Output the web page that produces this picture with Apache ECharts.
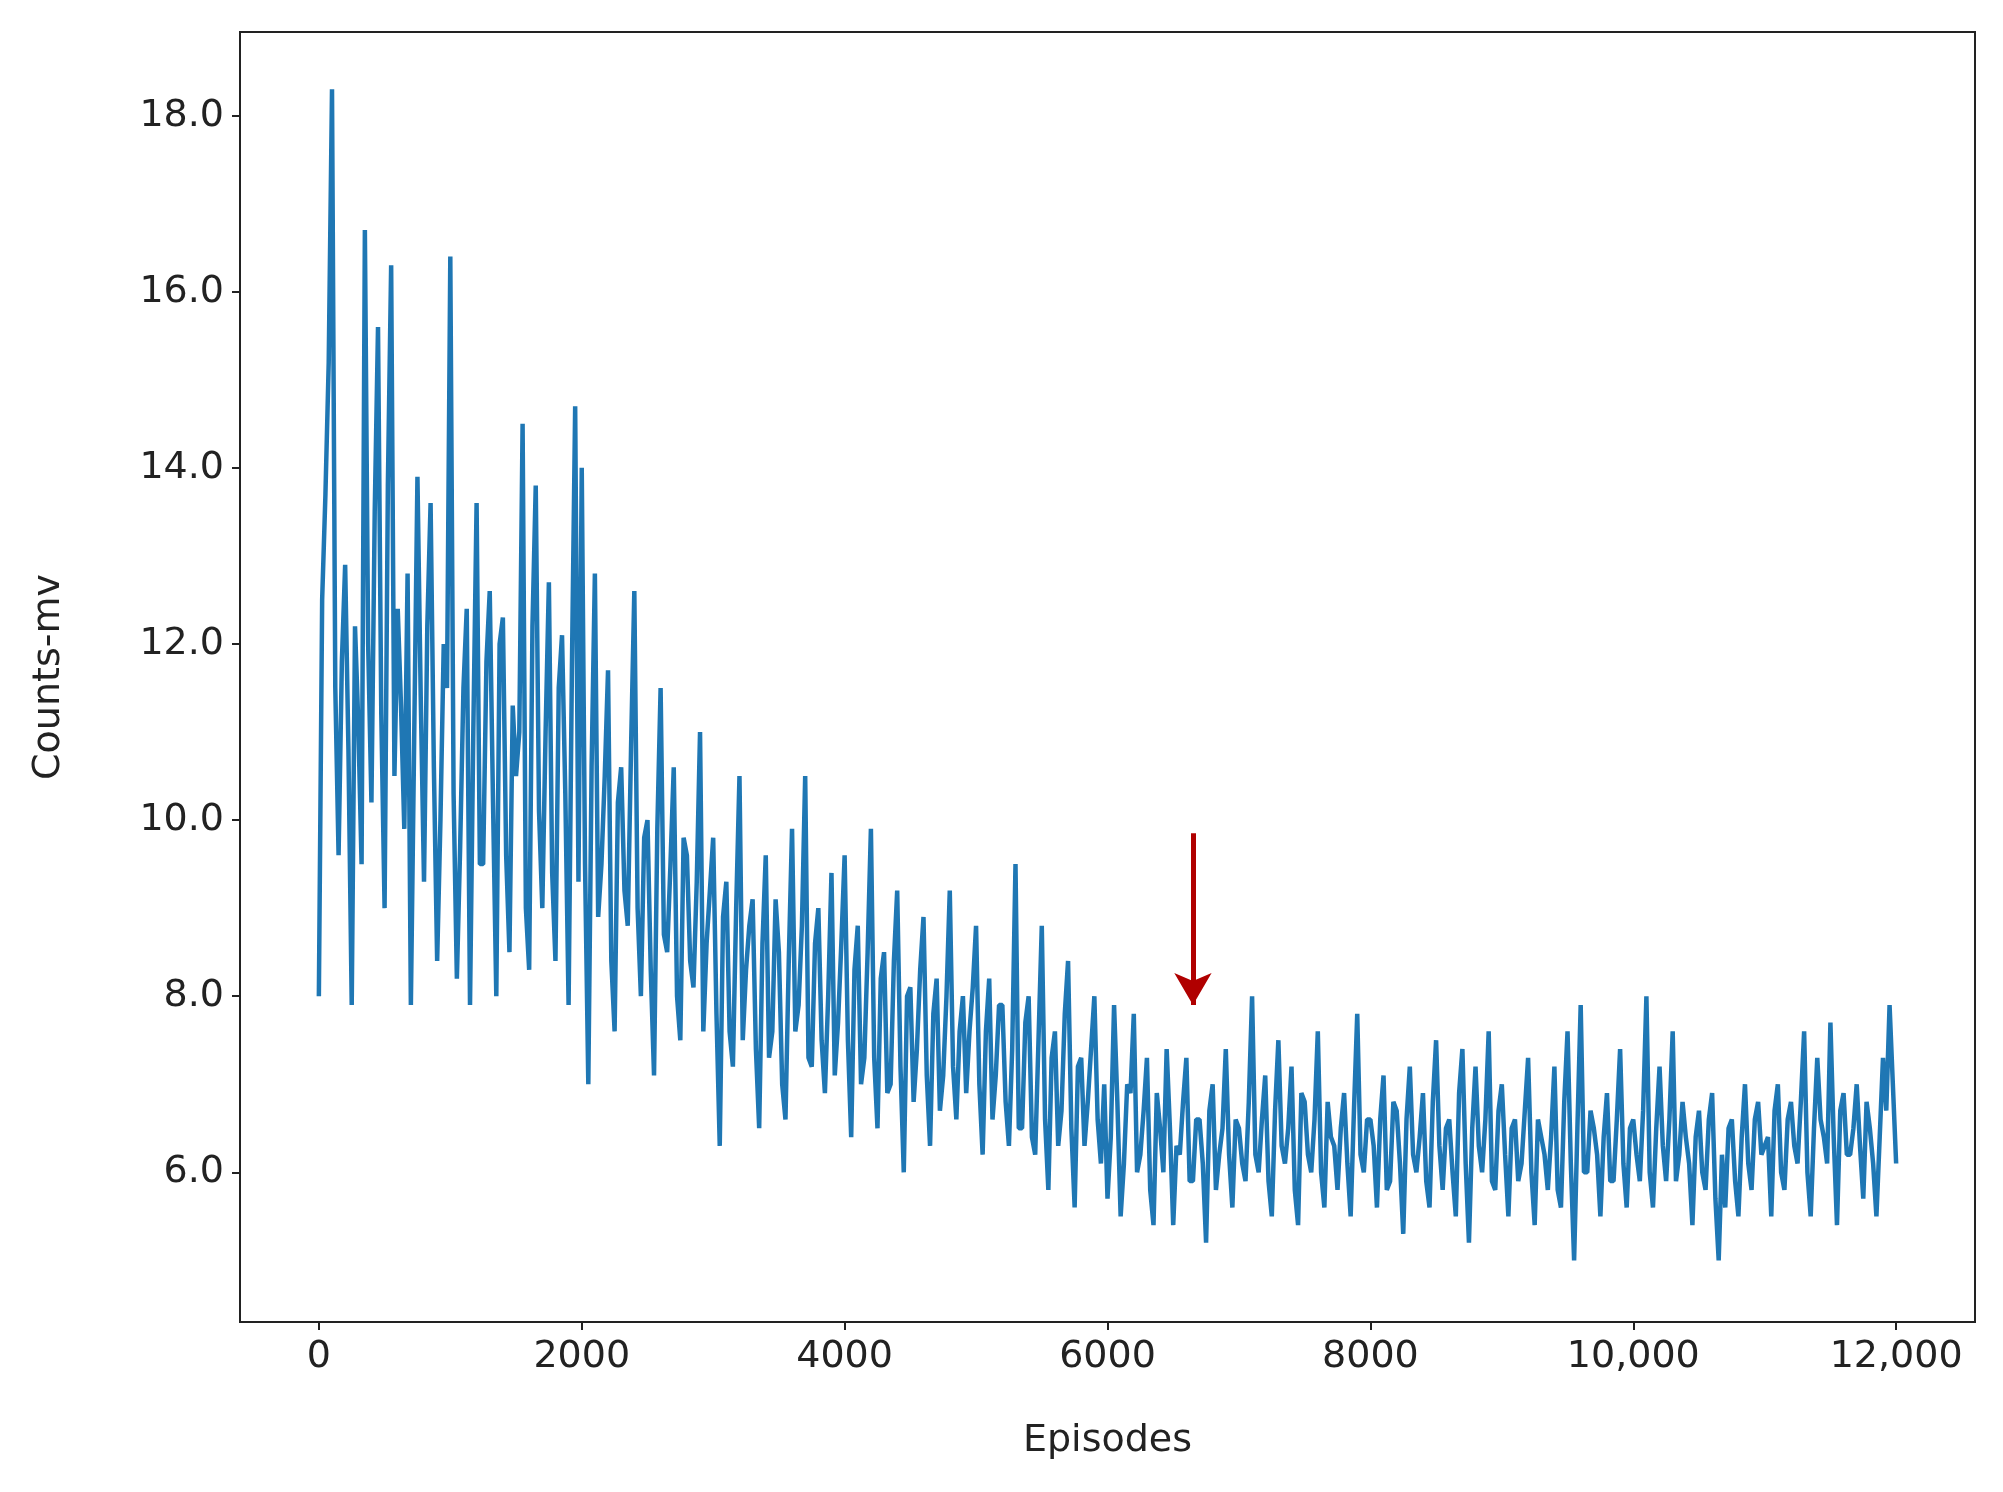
<!DOCTYPE html>
<html>
<head>
<meta charset="utf-8">
<script src="https://cdn.jsdelivr.net/npm/echarts@6/dist/echarts.min.js"></script>
<style>html,body{margin:0;background:#fff}#chart{width:2003px;height:1492px}</style>
</head>
<body>
<div id="chart"></div>
<script>
// readings every 50 episodes (peaks/troughs) and at the 25-episode midpoints
var stepSize = 50;
var countsMv = [
  8.0,13.7,18.3,9.6,12.9,7.9,11.1,16.7,10.2,15.6,9.0,16.3,12.4,9.9,7.9,13.9,9.3,13.6,8.4,12.0,
  16.4,8.2,11.5,7.9,13.6,9.5,12.6,8.0,12.3,8.5,10.5,14.5,8.3,13.8,9.0,12.7,8.4,12.1,7.9,14.7,
  14.0,7.0,12.8,9.5,11.7,7.6,10.6,8.8,12.6,8.0,10.0,7.1,11.5,8.5,10.6,7.5,9.6,8.1,11.0,8.6,
  9.8,6.3,9.3,7.2,10.5,8.3,9.1,6.5,9.6,7.6,8.5,6.6,9.9,7.9,10.5,7.2,9.0,6.9,9.4,7.7,
  9.6,6.4,8.8,7.3,9.9,6.5,8.5,7.0,9.2,6.0,8.1,7.4,8.9,6.3,8.2,7.1,9.2,6.6,8.0,7.6,
  8.8,6.2,8.2,7.1,7.9,6.3,9.5,6.5,8.0,6.2,8.8,5.8,7.6,6.7,8.4,5.6,7.3,6.8,8.0,6.1,
  5.7,7.9,5.5,7.0,7.8,6.2,7.3,5.4,6.5,7.4,5.4,6.2,7.3,5.9,6.6,5.2,7.0,6.2,7.4,5.6,
  6.5,5.9,8.0,6.0,7.1,5.5,7.5,6.1,7.2,5.4,6.8,6.0,7.6,5.6,6.4,5.8,6.9,5.5,7.8,6.0,
  6.6,5.6,7.1,5.9,6.7,5.3,7.2,6.0,6.9,5.6,7.5,5.8,6.6,5.5,7.4,5.2,7.2,6.0,7.6,5.8,
  7.0,5.5,6.6,6.1,7.3,5.4,6.4,5.8,7.2,5.6,7.6,5.0,7.9,6.0,6.5,5.5,6.9,5.9,7.4,5.6,
  6.6,5.9,8.0,5.6,7.2,5.9,7.6,6.2,6.4,5.4,6.7,5.8,6.9,5.0,5.6,6.6,5.5,7.0,5.8,6.8,
  6.3,5.5,7.0,5.8,6.8,6.1,7.6,5.5,7.3,6.4,7.7,5.4,6.9,6.2,7.0,5.7,6.5,5.5,7.3,7.9,
  6.1
];
var countsMvMid = [
  12.5,15.2,11.5,11.8,10.8,12.2,9.5,12.0,13.5,11.2,13.8,10.5,11.3,12.8,10.9,11.4,12.2,10.6,10.0,11.5,
  10.3,9.7,12.4,11.0,9.5,11.8,10.2,12.0,9.6,11.3,11.0,9.0,12.2,10.1,11.0,9.4,11.5,10.3,11.7,9.3,
  9.5,10.6,8.9,10.5,8.4,10.2,9.2,10.8,9.0,9.8,8.3,9.9,8.7,9.5,8.0,9.8,8.4,9.3,7.6,9.2,
  7.8,8.9,7.6,9.0,7.5,8.8,7.4,8.6,7.3,9.1,7.0,8.4,7.6,8.8,7.3,8.6,7.5,8.0,7.1,8.6,
  7.5,8.3,7.0,8.5,7.3,8.2,6.9,8.4,7.2,8.0,6.8,8.3,7.1,7.8,6.7,8.0,7.2,7.6,6.9,8.1,
  7.0,7.6,6.6,7.9,6.8,7.4,6.5,7.7,6.4,7.5,6.6,7.3,6.3,7.8,6.5,7.2,6.3,7.4,6.6,7.0,
  6.4,6.8,6.1,6.9,6.0,6.7,5.8,6.9,6.0,6.5,6.3,6.8,5.9,6.6,6.1,6.7,5.8,6.5,6.2,6.6,
  6.1,6.8,6.2,6.6,5.9,6.7,6.3,6.5,5.8,6.9,6.2,6.6,6.0,6.8,6.3,6.5,6.1,6.7,6.2,6.6,
  6.3,6.6,5.8,6.8,6.1,6.6,6.2,6.4,5.9,6.8,6.3,6.5,6.0,6.9,6.1,6.5,6.3,6.6,5.9,6.7,
  6.2,6.5,5.9,6.7,6.0,6.6,6.2,6.4,5.8,6.8,6.1,6.5,6.0,6.7,6.2,6.4,5.9,6.6,6.1,6.5,
  6.2,6.7,6.0,6.5,6.3,6.6,5.9,6.8,6.1,6.4,6.0,6.6,5.7,6.2,6.5,5.9,6.4,6.1,6.6,6.2,
  6.4,6.7,6.0,6.6,6.3,6.8,6.0,6.5,6.6,6.1,6.4,6.7,6.2,6.5,6.3,6.8,6.1,6.4,6.7,7.0
];
var xTicks = [0, 2000, 4000, 6000, 8000, 10000, 12000];
var yTicks = [6, 8, 10, 12, 14, 16, 18];
var arrowX = 6650, arrowFrom = 9.85, arrowTo = 7.9;

var points = [];
countsMv.forEach(function (v, i) {
  points.push([i * stepSize, v]);
  if (i < countsMvMid.length) points.push([i * stepSize + stepSize / 2, countsMvMid[i]]);
});

var myChart = echarts.init(document.getElementById("chart"));
var font = { color: "#222", fontSize: 38, fontFamily: "DejaVu Sans" };
var option = {
  animation: false,
  grid: { left: 240, right: 28, top: 32, bottom: 170 },
  xAxis: {
    type: "value", min: -600, max: 12600,
    name: "Episodes", nameLocation: "middle", nameGap: 100,
    nameTextStyle: font,
    splitLine: { show: false },
    axisLine: { onZero: false, lineStyle: { color: "#222", width: 2 } },
    axisTick: { customValues: xTicks, length: 8, lineStyle: { color: "#222", width: 2 } },
    axisLabel: Object.assign({ customValues: xTicks, margin: 16,
      formatter: function (v) { return v >= 10000 ? (v / 1000) + ",000" : String(v); } }, font)
  },
  yAxis: {
    type: "value", min: 4.3, max: 18.95,
    name: "Counts-mv", nameLocation: "middle", nameGap: 172,
    nameTextStyle: font,
    splitLine: { show: false },
    axisLine: { onZero: false, lineStyle: { color: "#222", width: 2 } },
    axisTick: { customValues: yTicks, length: 8, lineStyle: { color: "#222", width: 2 } },
    axisLabel: Object.assign({ customValues: yTicks, margin: 16,
      formatter: function (v) { return v.toFixed(1); } }, font)
  },
  series: [{
    type: "line", data: points, showSymbol: false,
    lineStyle: { color: "#1f77b4", width: 4.5 },
    markLine: {
      silent: true, symbolSize: [28, 32],
      label: { show: false },
      lineStyle: { color: "#b00000", width: 5, type: "solid" },
      data: [[{ coord: [arrowX, arrowFrom], symbol: "none" }, { coord: [arrowX, arrowTo], symbol: "arrow" }]]
    }
  }],
  graphic: [
    { type: "rect", shape: { x: 240, y: 32, width: 1735, height: 1290 }, style: { fill: null, stroke: "#222", lineWidth: 2 }, silent: true }
  ]
};
myChart.setOption(option);
window.addEventListener("resize", function () { myChart.resize(); });
</script>
</body>
</html>
